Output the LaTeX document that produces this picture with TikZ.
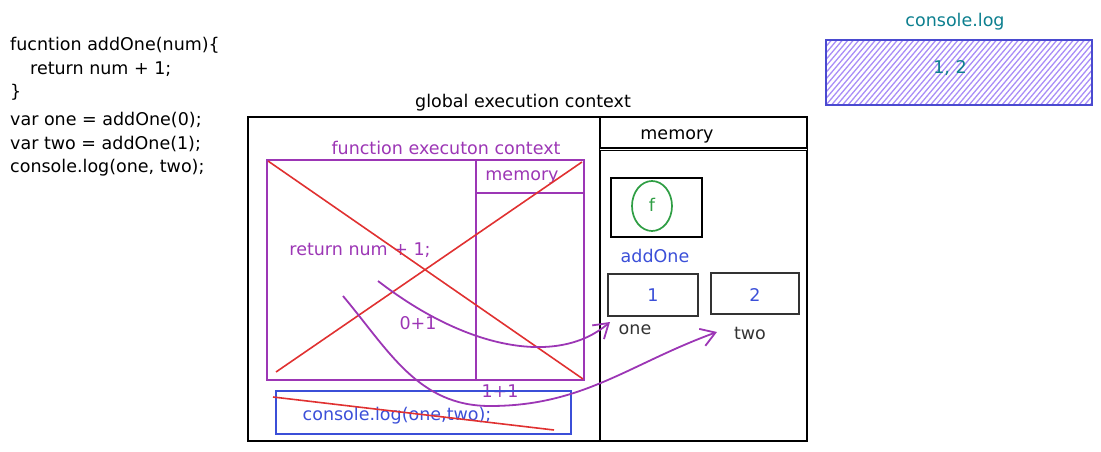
\documentclass[tikz,border=0pt]{standalone}
\usepackage{fontspec}
\setmainfont{DejaVu Sans}
\usetikzlibrary{arrows.meta,shapes.geometric}
\definecolor{grape}{HTML}{9C36B5}
\definecolor{redx}{HTML}{E03131}
\definecolor{bluetxt}{HTML}{3B4FD8}
\definecolor{tealtxt}{HTML}{0C7F8F}
\definecolor{greenf}{HTML}{2F9E44}
\definecolor{hatch}{HTML}{A98EF7}
\definecolor{logborder}{HTML}{4A4AD0}
\definecolor{darktxt}{HTML}{333333}
\tikzset{
  txt/.style={font=\fontsize{17.5}{20}\selectfont, inner sep=0pt},
  blackbox/.style={draw=black, line width=1.9pt},
  purplebox/.style={draw=grape, line width=2pt},
  redline/.style={draw=redx, line width=1.6pt},
  purplearrow/.style={draw=grape, line width=1.8pt, -{Straight Barb[length=14pt,width=18pt,line width=1.8pt]}},
}
\begin{document}
\begin{tikzpicture}[x=1pt,y=1pt]
\useasboundingbox (0,0) rectangle (1101,-452);
% code
\node[txt, anchor=west, align=left] (code1) at (10,-45) {fucntion addOne(num)\{};
\node[txt, anchor=west] (code2) at (30,-69) {return num + 1;};
\node[txt, anchor=west] (code3) at (10,-92) {\}};
\node[txt, anchor=west] (code4) at (10,-120) {var one = addOne(0);};
\node[txt, anchor=west] (code5) at (10,-144) {var two = addOne(1);};
\node[txt, anchor=west] (code6) at (10,-168) {console.log(one, two);};

% console.log output box
\begin{scope}
  \clip (826,-40) rectangle (1092,-105);
  \foreach \i in {0,5.5,...,360} {
    \draw[hatch, line width=1.3pt] (826+\i-55,-105) -- (826+\i,-40);
  }
\end{scope}
\node[draw=logborder, line width=1.8pt, minimum width=266pt, minimum height=65pt, inner sep=0pt] (logbox) at (959,-72.5) {};
\node[txt, text=tealtxt] (logtitle) at (955,-22) {console.log};
\node[txt, text=tealtxt] (logval) at (950,-68) {1, 2};

% global execution context
\node[txt] (gtitle) at (523,-103) {global execution context};
\node[blackbox, minimum width=559pt, minimum height=324pt, inner sep=0pt] (global) at (527.5,-279) {};
\coordinate (divtop) at (600,-117);
\coordinate (divbot) at (600,-441);
\draw[black, line width=1.9pt] (divtop) -- (divbot);
\coordinate (mhl) at (600,-149);
\coordinate (mhr) at (807,-149);
\draw[black, line width=1.2pt, double distance=1pt] (mhl) -- (mhr);
\node[txt] (gmem) at (677,-136) {memory};

% memory items
\node[blackbox, minimum width=91pt, minimum height=59pt, inner sep=0pt] (fbox) at (656.5,-207.5) {};
\node[draw=greenf, line width=1.7pt, ellipse, minimum width=40pt, minimum height=50pt, inner sep=0pt] (fcirc) at (652,-206) {};
\node[txt, text=greenf] (flabel) at (652,-205) {f};
\node[txt, text=bluetxt] (addone) at (655,-256) {addOne};
\node[draw=darktxt, line width=1.6pt, minimum width=90pt, minimum height=42pt, inner sep=0pt] (onebox) at (653,-295) {};
\node[txt, text=bluetxt] (oneval) at (653,-295) {1};
\node[txt, text=darktxt] (onelabel) at (635,-330) {one};
\node[draw=darktxt, line width=1.6pt, minimum width=88pt, minimum height=41pt, inner sep=0pt] (twobox) at (755,-293.5) {};
\node[txt, text=bluetxt] (twoval) at (755,-295) {2};
\node[txt, text=darktxt] (twolabel) at (750,-333) {two};

% function execution context
\node[txt, text=grape] (ftitle) at (446,-148) {function executon context};
\node[purplebox, minimum width=317pt, minimum height=220pt, inner sep=0pt] (fbox2) at (425.5,-270) {};
\coordinate (fdivtop) at (476,-160);
\coordinate (fdivbot) at (476,-380);
\draw[grape, line width=2pt] (fdivtop) -- (fdivbot);
\coordinate (fhl) at (476,-193);
\coordinate (fhr) at (584,-193);
\draw[grape, line width=1.7pt] (fhl) -- (fhr);
\node[txt, text=grape] (fmem) at (522,-177) {memory};
\node[txt, text=grape] (ret) at (360,-250) {return num + 1;};
\node[txt, text=grape] (zp1) at (418,-323) {0+1};
\node[txt, text=grape] (op1) at (500,-391) {1+1};

% red X
\coordinate (x1a) at (268,-161);
\coordinate (x1b) at (583,-379);
\coordinate (x2a) at (276,-372);
\coordinate (x2b) at (582,-162);
\draw[redline] (x1a) -- (x1b);
\draw[redline] (x2a) -- (x2b);

% console.log call box
\node[draw=bluetxt, line width=1.7pt, minimum width=295pt, minimum height=43pt, inner sep=0pt] (callbox) at (423.5,-412.5) {};
\node[txt, text=bluetxt] (calltxt) at (397,-416) {console.log(one,two);};
\coordinate (sa) at (273,-397);
\coordinate (sb) at (554,-430);
\draw[redline] (sa) -- (sb);

% arrows
\coordinate (a1s) at (378,-281);
\coordinate (a1e) at (610,-322);
\draw[purplearrow] (a1s) .. controls (470,-352) and (560,-365) .. (a1e);
\coordinate (a2s) at (343,-296);
\coordinate (a2m) at (490,-406);
\coordinate (a2e) at (717,-332);
\draw[purplearrow] (a2s) to[out=-50,in=180] (a2m) to[out=0,in=200] (a2e);
\end{tikzpicture}
\end{document}
